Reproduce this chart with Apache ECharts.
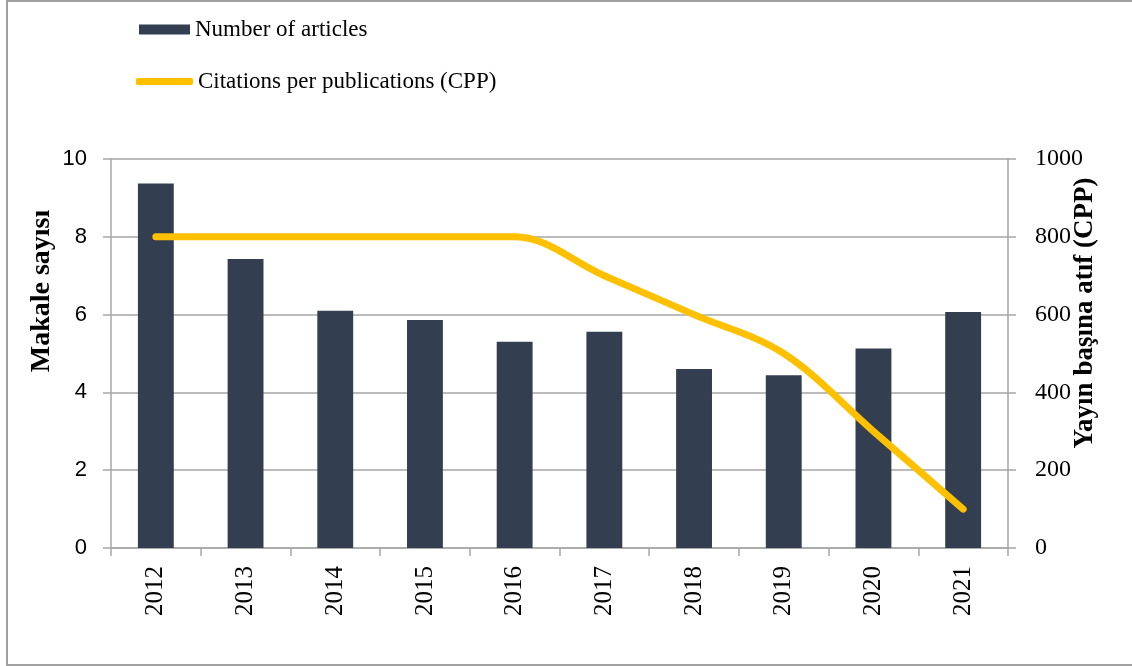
<!DOCTYPE html>
<html>
<head>
<meta charset="utf-8">
<script src="https://cdn.jsdelivr.net/npm/echarts@6/dist/echarts.min.js"></script>
<style>
  html, body { margin: 0; padding: 0; background: #fff; }
  #chart { width: 1132px; height: 666px; }
</style>
</head>
<body>
<div id="chart"></div>
<script>
// veriler
const years = ['2012', '2013', '2014', '2015', '2016', '2017', '2018', '2019', '2020', '2021']
const articles = [9.37, 7.43, 6.1, 5.86, 5.3, 5.56, 4.6, 4.44, 5.13, 6.07]
const cpp = [800, 800, 800, 800, 800, 700, 600, 500, 300, 100]

const serif = '"Liberation Serif", "DejaVu Serif", serif'
const sans = '"Liberation Sans", "Noto Sans", sans-serif'
const gray = '#A6A6A6'

let chart = echarts.init(document.getElementById('chart'))

chart.setOption({
  backgroundColor: '#fff',
  animation: false,
  grid: { left: 111, right: 124, top: 159, bottom: 118 },
  legend: [
    {
      data: ['Number of articles'],
      left: 139, top: 18, padding: 0,
      icon: 'rect', itemWidth: 51, itemHeight: 10,
      textStyle: { fontFamily: serif, fontSize: 23, color: '#000' }
    },
    {
      data: ['Citations per publications (CPP)'],
      left: 136, top: 70, padding: 0,
      icon: 'roundRect', itemWidth: 57, itemHeight: 7,
      textStyle: { fontFamily: serif, fontSize: 23, color: '#000' }
    }
  ],
  xAxis: {
    type: 'category',
    data: years,
    axisLine: { lineStyle: { color: gray, width: 1.5 } },
    axisTick: { show: true, length: 8, lineStyle: { color: gray, width: 1.5 } },
    axisLabel: { rotate: 90, margin: 18, fontFamily: serif, fontSize: 25, color: '#000' }
  },
  yAxis: [
    {
      type: 'value', min: 0, max: 10, interval: 2,
      axisLine: { show: true, lineStyle: { color: gray, width: 1.5 } },
      axisTick: { show: true, length: 8, lineStyle: { color: gray, width: 1.5 } },
      splitLine: { lineStyle: { color: gray, width: 1.5 } },
      axisLabel: { margin: 24, fontFamily: sans, fontSize: 22, color: '#000' }
    },
    {
      type: 'value', min: 0, max: 1000, interval: 200,
      axisLine: { show: true, lineStyle: { color: gray, width: 1.5 } },
      axisTick: { show: true, length: 8, lineStyle: { color: gray, width: 1.5 } },
      splitLine: { show: false },
      axisLabel: { margin: 27, fontFamily: serif, fontSize: 24, color: '#000', formatter: v => String(v) }
    }
  ],
  series: [
    {
      name: 'Number of articles',
      type: 'bar',
      data: articles,
      barWidth: '40%',
      itemStyle: { color: '#333F50' }
    },
    {
      name: 'Citations per publications (CPP)',
      type: 'line',
      yAxisIndex: 1,
      data: cpp,
      smooth: 0.35,
      symbol: 'none',
      lineStyle: { color: '#FFC000', width: 7, cap: 'round' },
      itemStyle: { color: '#FFC000' }
    }
  ],
  graphic: [
    {
      type: 'rect', silent: true, z: -1,
      shape: { x: 7, y: 1, width: 1140, height: 664 },
      style: { fill: 'none', stroke: '#A0A0A0', lineWidth: 2 }
    },
    {
      type: 'text', x: 42, y: 291, rotation: Math.PI / 2,
      style: {
        text: 'Makale sayısı', fontFamily: serif, fontWeight: 'bold', fontSize: 28,
        fill: '#000', align: 'center', verticalAlign: 'middle'
      }
    },
    {
      type: 'text', x: 1085, y: 313, rotation: Math.PI / 2,
      style: {
        text: 'Yayın başına atıf (CPP)', fontFamily: serif, fontWeight: 'bold', fontSize: 27,
        fill: '#000', align: 'center', verticalAlign: 'middle'
      }
    }
  ]
})

window.addEventListener('resize', () => {
  chart.resize()
})
</script>
</body>
</html>
